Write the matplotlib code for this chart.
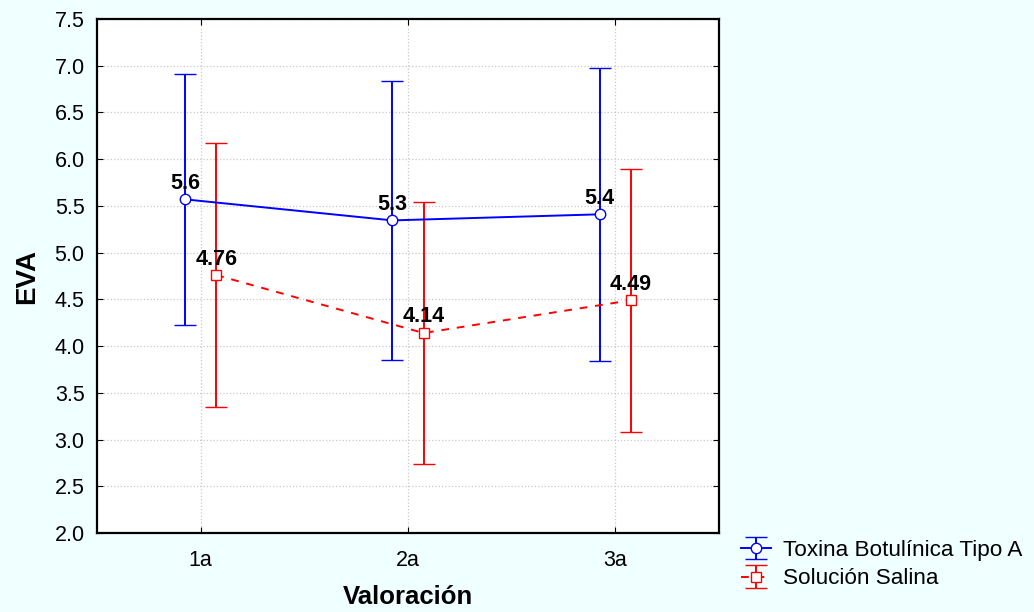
import numpy as np
import matplotlib
matplotlib.use("Agg")
import matplotlib.pyplot as plt

plt.rcParams['font.family'] = ['Liberation Sans', 'DejaVu Sans']

# data
categories = ['1a', '2a', '3a']
toxina_mean = [5.57, 5.345, 5.41]
toxina_err = [1.34, 1.49, 1.57]
toxina_lbl = ['5.6', '5.3', '5.4']
salina_mean = [4.76, 4.14, 4.49]
salina_err = [1.41, 1.40, 1.41]
salina_lbl = ['4.76', '4.14', '4.49']

bg = '#F0FFFF'
fig = plt.figure(figsize=(10.34, 6.12), dpi=100, facecolor=bg)
ax = fig.add_axes([97 / 1034, 1 - 533 / 612, 622 / 1034, 514 / 612])
ax.set_facecolor('white')

x = np.arange(1, len(categories) + 1)
off = 0.075

eb1 = ax.errorbar(x - off, toxina_mean, yerr=toxina_err, color='#0000FF', lw=1.4,
                  capsize=8, capthick=1.4, marker='o', ms=7.5, mfc='white', mec='#0000FF',
                  mew=1.0, label='Toxina Botulínica Tipo A', zorder=3)
eb2 = ax.errorbar(x + off, salina_mean, yerr=salina_err, color='#FF0000', lw=1.4,
                  capsize=8, capthick=1.4, marker='s', ms=7.5, mfc='white', mec='#FF0000',
                  mew=1.0, label='Solución Salina', zorder=3)
eb2.lines[0].set_linestyle((0, (4, 4)))

for xi, yi, t in zip(x - off, toxina_mean, toxina_lbl):
    ax.annotate(t, (xi, yi), xytext=(0, 4), textcoords='offset points',
                ha='center', va='bottom', fontsize=15.5, fontweight='bold', zorder=4)
for xi, yi, t in zip(x + off, salina_mean, salina_lbl):
    ax.annotate(t, (xi, yi), xytext=(0, 4), textcoords='offset points',
                ha='center', va='bottom', fontsize=15.5, fontweight='bold', zorder=4)

ax.set_xlim(0.5, 3.5)
ax.set_ylim(2.0, 7.5)
ax.set_xticks(x)
ax.set_xticklabels(categories)
ax.set_yticks(np.arange(2.0, 7.51, 0.5))
ax.set_yticklabels([f'{v:.1f}' for v in np.arange(2.0, 7.51, 0.5)])
ax.tick_params(direction='in', top=True, right=True, length=4, labelsize=15.5)
ax.tick_params(axis='x', pad=12)
ax.tick_params(axis='y', pad=9)
ax.grid(True, color='#C8C8C8', ls=':', lw=0.9)
for s in ax.spines.values():
    s.set_linewidth(1.6)

ax.set_ylabel('EVA', fontsize=20, fontweight='bold', labelpad=10)
ax.set_xlabel('Valoración', fontsize=18.5, fontweight='bold', labelpad=10)

leg = fig.legend(handles=[eb1, eb2], loc='lower left', bbox_to_anchor=(736 / 1034, 1 - 594 / 612),
                 frameon=False, fontsize=16.2, handlelength=1.35, handletextpad=0.55,
                 labelspacing=0.35, borderpad=0.2, borderaxespad=0)

fig.savefig('out.png', dpi=100, facecolor=bg)
